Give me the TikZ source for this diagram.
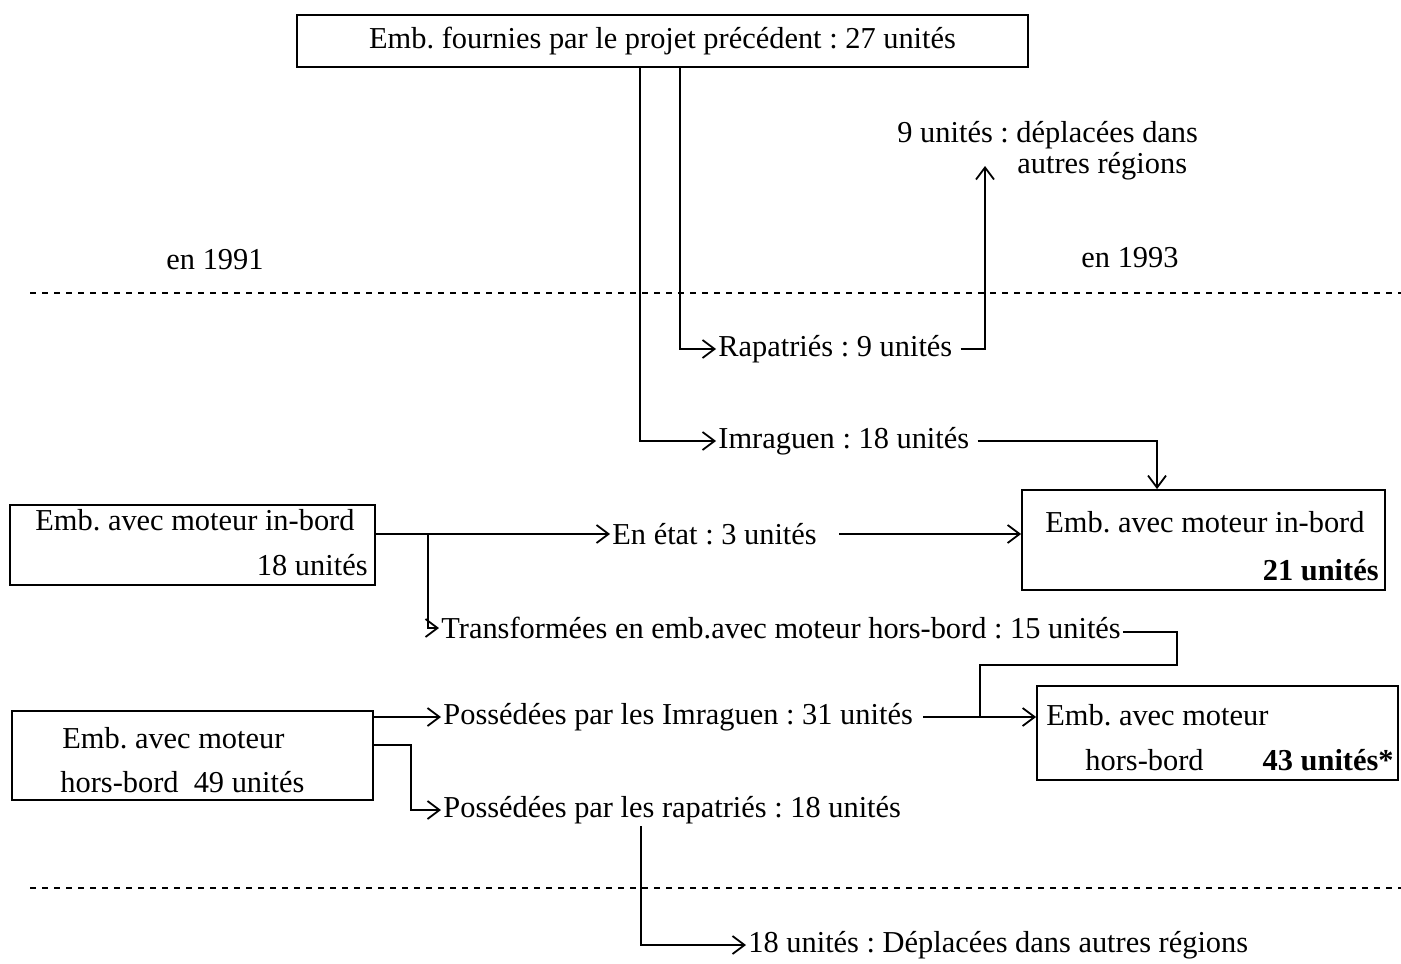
\documentclass[tikz,border=0pt]{standalone}
\usepackage{fontspec}
\setmainfont{Liberation Serif}
\frenchspacing
\usetikzlibrary{arrows.meta}
\tikzset{
  box/.style={draw,line width=0.9pt,inner sep=0pt},
  lbl/.style={inner sep=1pt,anchor=west},
  arr/.style={line width=0.9pt,-{Straight Barb[length=6pt,width=9pt,line width=0.9pt]}},
  lnk/.style={line width=0.9pt},
}
\begin{document}
\begin{tikzpicture}[x=0.5pt,y=-0.5pt,font=\fontsize{15.2}{18}\selectfont]
  \useasboundingbox (0,0) rectangle (1401,963);
  %% years
  \draw[dashed,line width=0.7pt] (30,293) -- (1401,293);
  \draw[dashed,line width=0.7pt] (30,888) -- (1401,888);
  \node (y91) at (215,260) {en 1991};
  \node (y93) at (1130,258) {en 1993};
  %% boxes
  \node[box,minimum width=365.5pt,minimum height=26pt] (top) at (662.5,41) {Emb. fournies par le projet précédent : 27 unités\hspace{10pt}};
  \node[box,minimum width=182.5pt,minimum height=40pt] (inL) at (192.5,545) {};
  \node[lbl] at (33,520) {Emb. avec moteur in-bord};
  \node[lbl,anchor=east] at (370,565) {18 unités};
  \node[box,minimum width=181.5pt,minimum height=50pt] (inR) at (1203.5,540) {};
  \node[lbl] at (1043,522) {Emb. avec moteur in-bord};
  \node[lbl,anchor=east] at (1381,570) {\bfseries 21 unités};
  \node[box,minimum width=180.5pt,minimum height=44.5pt] (horsL) at (192.5,755.5) {};
  \node[lbl] at (60,738) {Emb. avec moteur};
  \node[lbl] at (58,782) {hors-bord\ \ 49 unités};
  \node[box,minimum width=180.5pt,minimum height=47pt] (horsR) at (1217.5,733) {};
  \node[lbl] at (1044,715) {Emb. avec moteur};
  \node[lbl] at (1083,760) {hors-bord};
  \node[lbl,anchor=east] at (1396,760) {\bfseries 43 unités*};
  %% labels
  \node[lbl] (dep9a) at (895,135) {9 unités : déplacées dans};
  \node[lbl] (dep9b) at (1015,166) {autres régions};
  \node[lbl] (rap) at (716,349) {Rapatriés : 9 unités};
  \node[lbl] (imr) at (716,441) {Imraguen : 18 unités};
  \node[lbl] (etat) at (610,534) {En état : 3 unités};
  \node[lbl] (trans) at (439,628) {Transformées en emb.avec moteur hors-bord : 15 unités};
  \node[lbl] (pos31) at (441,717) {Possédées par les Imraguen : 31 unités};
  \node[lbl] (rap18) at (441,810) {Possédées par les rapatriés : 18 unités};
  \node[lbl] (dep18) at (746,945) {18 unités : Déplacées dans autres régions};
  \coordinate (j) at (980,717);
  \coordinate (k) at (1177,665);
  %% top flows
  \draw[arr] ([xshift=-11.25pt]top.south) |- (imr.west);
  \draw[arr] ([xshift=8.75pt]top.south) |- (rap.west);
  \draw[arr] ([xshift=3pt]rap.east) -| ([xshift=-15pt]dep9b.west);
  \draw[arr] ([xshift=3pt]imr.east) -| ([xshift=-23.25pt]inR.north);
  %% in-bord flows
  \draw[arr] (inL.east |- etat.west) -- (etat.west);
  \draw[arr] ([xshift=10pt]etat.east) -- (inR.west |- etat.east);
  \draw[arr] ([xshift=26pt]inL.east |- etat.west) |- (trans.west);
  \draw[lnk] ([yshift=-2pt]trans.east) -| (k) -| (j);
  %% hors-bord flows
  \draw[arr] (horsL.east |- pos31.west) -- (pos31.west);
  \draw[arr] ([xshift=4pt]pos31.east) -- (horsR.west |- pos31.east);
  \draw[arr] ([yshift=5.25pt]horsL.east) -- ++(37,0) |- (rap18.west);
  \draw[arr] ([xshift=100pt]rap18.south west) |- (dep18.west);
\end{tikzpicture}
\end{document}
